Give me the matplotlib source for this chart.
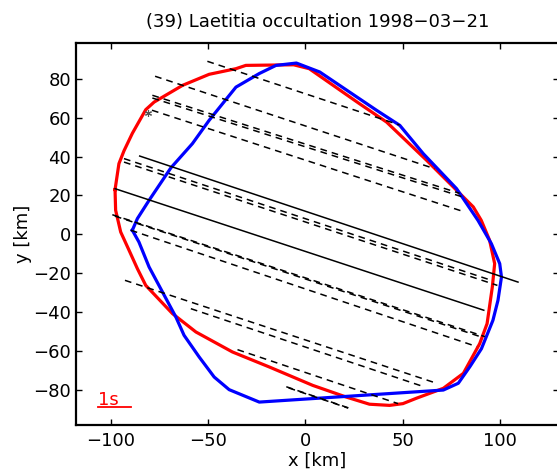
import matplotlib
matplotlib.use("Agg")
import matplotlib.pyplot as plt

plt.rcParams['font.family'] = ['DejaVu Sans']

# shape model outline 1 (red)
red_x = [-97.9, -95.9, -93.3, -89.0, -82.1, -77.8, -63.2, -49.5, -35.7, -30.6, -6.0, 2.0,
         27.8, 41.8, 62.4, 78.7, 86.4, 90.5, 94.8, 97.4, 96.2, 93.5, 89.7, 81.3, 71.0,
         57.2, 50.2, 43.3, 33.0, 21.0, 3.8, -18.6, -37.5, -56.3, -68.4, -82.1, -86.4,
         -90.7, -95.0, -97.6]
red_y = [23.0, 36.4, 43.0, 52.0, 64.2, 68.1, 76.7, 82.4, 85.3, 87.0, 87.3, 85.3,
         67.3, 57.8, 38.1, 21.8, 14.1, 7.2, -3.1, -15.1, -27.1, -46.0, -56.3, -71.6, -79.3,
         -84.4, -87.2, -88.1, -87.5, -83.8, -77.8, -68.3, -60.6, -50.3, -40.8, -26.3, -17.7,
         -8.2, 1.2, 12.4]

# shape model outline 2 (blue)
blue_x = [-89.0, -86.4, -80.4, -69.2, -58.1, -49.5, -35.7, -23.7, -15.1, -4.6, 7.4,
          36.6, 48.6, 60.7, 77.8, 88.8, 95.7, 100.0, 100.9, 99.1, 96.5, 90.6, 84.7,
          78.7, 71.0, -23.7, -39.2, -46.9, -54.6, -62.4, -66.6, -80.4, -85.6]
blue_y = [2.1, 8.1, 17.5, 34.2, 46.7, 58.7, 75.8, 82.8, 87.0, 88.2, 83.6,
          63.9, 56.1, 41.5, 23.5, 7.2, -4.8, -15.1, -22.0, -34.0, -44.3, -58.9, -68.1,
          -76.7, -80.2, -86.4, -80.0, -73.5, -63.2, -52.0, -42.6, -16.8, -4.0]

# observed chords (dashed)
dash_x0 = [-50.4, -77.3, -78.7, -78.7, -78.9, -93.3, -93.3, -99.3, -98.0, -89.8, -92.8, -58.9, -34.9, -9.8, -8.6]
dash_y0 = [89.1, 81.4, 71.6, 70.2, 63.9, 39.0, 37.2, 10.1, 9.4, 2.1, -23.7, -38.3, -59.4, -78.5, -79.1]
dash_x1 = [48.5, 66.5, 79.4, 80.4, 82.0, 95.7, 98.8, 92.4, 91.5, 88.1, 67.5, 60.7, 47.7, 22.8, 22.0]
dash_y1 = [56.3, 33.8, 21.1, 19.4, 11.5, -23.7, -26.3, -52.7, -53.2, -57.8, -76.7, -78.4, -87.2, -89.6, -89.5]

# observed chords (solid)
solid_x0 = [-97.9, -85.2]
solid_y0 = [23.5, 40.3]
solid_x1 = [91.8, 109.4]
solid_y1 = [-39.1, -24.6]

star_x, star_y = -80.8, 62.7
scale_x = [-106.5, -89.8]
scale_y = [-88.7, -88.7]

fig = plt.figure(figsize=(5.57, 4.73), dpi=100)
ax = fig.add_axes([0.1364, 0.1015, 0.8665, 0.8083])

ax.plot(red_x + red_x[:1], red_y + red_y[:1], color='#ff0000', lw=2.3)
ax.plot(blue_x + blue_x[:1], blue_y + blue_y[:1], color='#0000ff', lw=2.3)

for x0, y0, x1, y1 in zip(dash_x0, dash_y0, dash_x1, dash_y1):
    ax.plot([x0, x1], [y0, y1], color='k', lw=1.1, linestyle=(0, (4.4, 3.3)))
for x0, y0, x1, y1 in zip(solid_x0, solid_y0, solid_x1, solid_y1):
    ax.plot([x0, x1], [y0, y1], color='k', lw=1.1)

ax.plot([star_x], [star_y], marker=(6, 2, 0), color='#555555', ms=5, mew=0.8)

ax.plot(scale_x, scale_y, color='#ff0000', lw=1.3)
ax.text(scale_x[0], scale_y[0] + 0.6, '1s', color='#ff0000', fontsize=13,
        ha='left', va='baseline')

ax.set_xlim(-118, 130.3)
ax.set_ylim(-98.2, 98.7)
ax.set_xticks([-100, -50, 0, 50, 100])
ax.set_yticks([-80, -60, -40, -20, 0, 20, 40, 60, 80])
ax.tick_params(axis='both', direction='in', top=True, right=True, length=4,
               width=1, labelsize=13)
ax.tick_params(axis='x', pad=5)
ax.tick_params(axis='y', pad=3.6)
for sp in ax.spines.values():
    sp.set_linewidth(1.6)

ax.set_xlabel('x [km]', fontsize=13, labelpad=1)
ax.set_ylabel('y [km]', fontsize=13, labelpad=1)
ax.set_title('(39) Laetitia occultation 1998\u221203\u221221', fontsize=13, pad=11)

fig.savefig('out.png', dpi=100)
